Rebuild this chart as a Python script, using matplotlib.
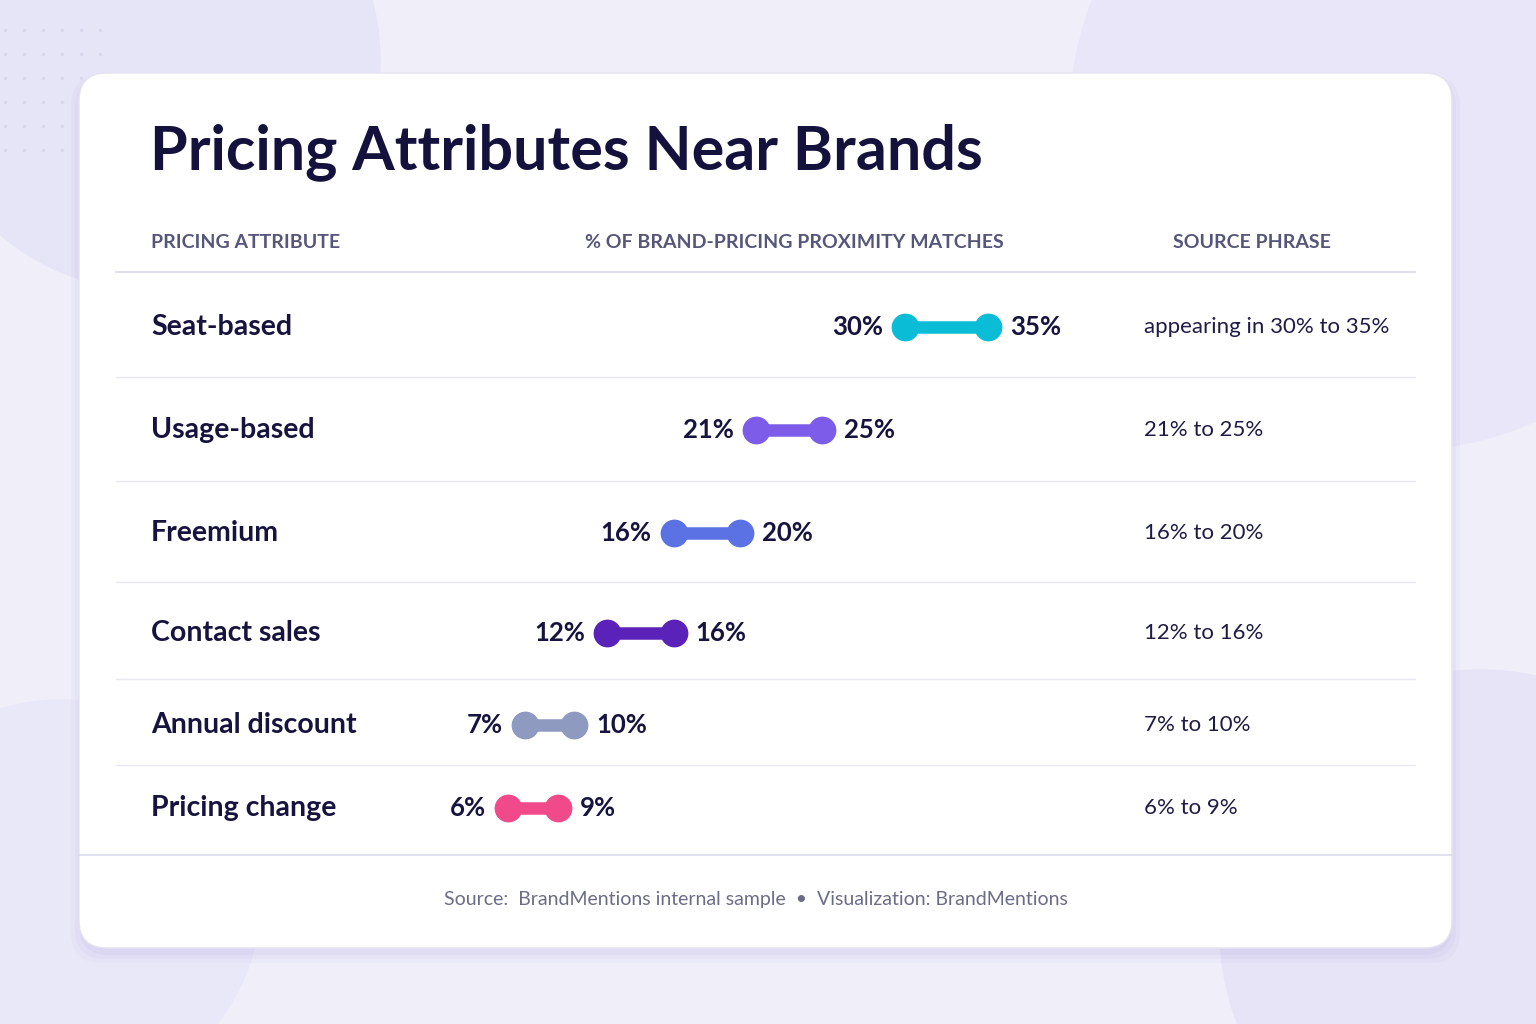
import matplotlib
matplotlib.use('Agg')
import matplotlib.pyplot as plt
from matplotlib.patches import FancyBboxPatch, Circle

plt.rcParams['font.family'] = ['Lato', 'DejaVu Sans']

attributes = ['Seat-based', 'Usage-based', 'Freemium', 'Contact sales', 'Annual discount', 'Pricing change']
low = [30, 21, 16, 12, 7, 6]
high = [35, 25, 20, 16, 10, 9]
phrases = ['appearing in 30% to 35%', '21% to 25%', '16% to 20%', '12% to 16%', '7% to 10%', '6% to 9%']
colors = ['#0BBCD6', '#7C5CE8', '#5B72E4', '#5A22B8', '#8E9AC0', '#F04A8A']

row_y = [327, 430, 533, 633, 725, 808]
sep_y = [377, 481, 582, 679, 765]

W, H = 1536, 1024
fig = plt.figure(figsize=(W / 100, H / 100), dpi=100)
bg = fig.add_axes([0, 0, 1, 1])
bg.set_xlim(0, W)
bg.set_ylim(H, 0)
bg.axis('off')
fig.patch.set_facecolor('#EFEEF9')

# soft background blobs
for (cx, cy, r, c) in [(150, 60, 230, '#E6E4F7'), (1400, 120, 330, '#E8E6F8'),
                       (1480, 930, 260, '#E6E4F6'), (60, 900, 200, '#E9E8F8')]:
    bg.add_patch(Circle((cx, cy), r, color=c, zorder=0))
for i in range(6):
    for j in range(6):
        bg.plot(5 + j * 19, 30 + i * 24, 's', ms=2, color='#D9D7EE', zorder=1)

# card with shadow
for k, a in enumerate([0.04, 0.04, 0.03]):
    bg.add_patch(FancyBboxPatch((79 - k * 4, 80 - k * 2), 1373 + k * 8, 875 + k * 6,
                                boxstyle='round,pad=0,rounding_size=30',
                                fc='#6A5ACD', ec='none', alpha=a, zorder=1))
bg.add_patch(FancyBboxPatch((79, 73), 1373, 875, boxstyle='round,pad=0,rounding_size=28',
                            fc='white', ec='#E4E3F0', lw=1, zorder=2))

bg.text(150, 152, 'Pricing Attributes Near Brands', fontsize=44, fontweight='bold',
        color='#14123D', va='center', zorder=3)

hdr = dict(fontsize=14, fontweight='bold', color='#55567A', va='center', zorder=3)
bg.text(151, 243, 'PRICING ATTRIBUTE', **hdr)
bg.text(794, 243, '% OF BRAND-PRICING PROXIMITY MATCHES', ha='center', **hdr)
bg.text(1252, 243, 'SOURCE PHRASE', ha='center', **hdr)

bg.plot([116, 1415], [272, 272], color='#DCDBEC', lw=1.3, zorder=3)
for y in sep_y:
    bg.plot([116, 1415], [y, y], color='#E8E7F2', lw=1, zorder=3)
bg.plot([79, 1452], [855, 855], color='#DCDBEA', lw=1.2, zorder=3)

for name, phrase, y in zip(attributes, phrases, row_y):
    bg.text(151, y, name, fontsize=20.5, fontweight='bold', color='#16143F', va='center', zorder=3)
    bg.text(1144, y, phrase, fontsize=16, color='#1E1C45', va='center', zorder=3)

bg.text(756, 900, 'Source:  BrandMentions internal sample  \u2022  Visualization: BrandMentions',
        fontsize=14, color='#6B6C88', ha='center', va='center', zorder=3)

# dumbbells on a linear percentage axis overlaying the figure
ax = fig.add_axes([0, 0, 1, 1])
ax.patch.set_alpha(0)
ax.axis('off')
px_per = (988 - 508) / (35 - 6)
ax.set_xlim(6 - 508 / px_per, 6 + (W - 508) / px_per)
ax.set_ylim(H, 0)

for lo, hi, c, y in zip(low, high, colors, row_y):
    ax.plot([lo, hi], [y, y], color=c, lw=9, solid_capstyle='round', zorder=4)
    ax.plot([lo, hi], [y, y], 'o', ms=19, color=c, zorder=5)
    off = 22 / px_per
    ax.text(lo - off, y, f'{lo}%', fontsize=18.5, fontweight='bold', color='#16143F',
            ha='right', va='center', zorder=6)
    ax.text(hi + off, y, f'{hi}%', fontsize=18.5, fontweight='bold', color='#16143F',
            ha='left', va='center', zorder=6)

fig.savefig('out.png', dpi=100)
